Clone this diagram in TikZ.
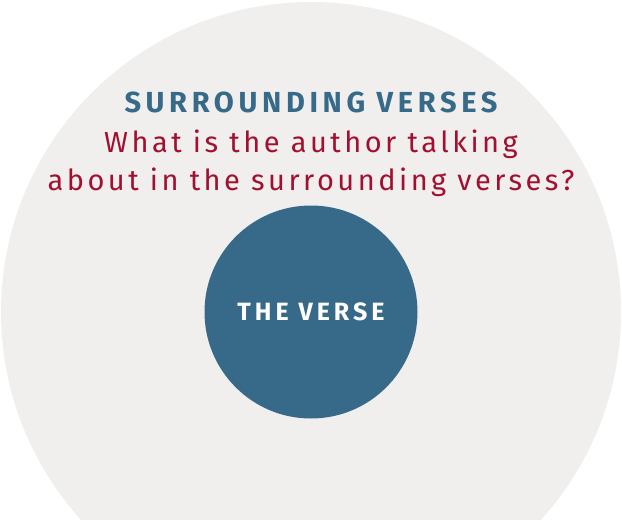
\documentclass[tikz,border=0pt]{standalone}
\usepackage{fontspec}
\setmainfont{Fira Sans}
\newfontfamily\versefont[LetterSpace=12]{Fira Sans}
\newfontfamily\headfont[LetterSpace=16]{Fira Sans}
\definecolor{versegray}{HTML}{F0EFEE}
\definecolor{verseblue}{HTML}{376A89}
\definecolor{versered}{HTML}{A3102F}
\begin{document}
\begin{tikzpicture}[x=1pt,y=-1pt,
    heading/.style={anchor=base, text=verseblue, font=\headfont\bfseries\fontsize{29}{33}\selectfont},
    question/.style={anchor=base, text=versered, font=\versefont\fontsize{29}{33}\selectfont},
    inner/.style={circle, fill=verseblue, minimum size=213pt, inner sep=0pt,
      text=white, font=\headfont\bfseries\fontsize{25}{29}\selectfont}]
\useasboundingbox (0,0) rectangle (622,520);
% Surrounding verses
\begin{scope}
\clip (0,0) rectangle (622,520);
\fill[versegray] (311,312) circle (310pt);
\end{scope}
\node[heading] (head) at (311,112) {SURROUNDING VERSES};
\node[question] (qa) at (311,152) {What is the author talking};
\node[question] (qb) at (311,190) {about in the surrounding verses?};
% The verse
\node[inner] (verse) at (311,312) {THE VERSE};
\end{tikzpicture}
\end{document}
